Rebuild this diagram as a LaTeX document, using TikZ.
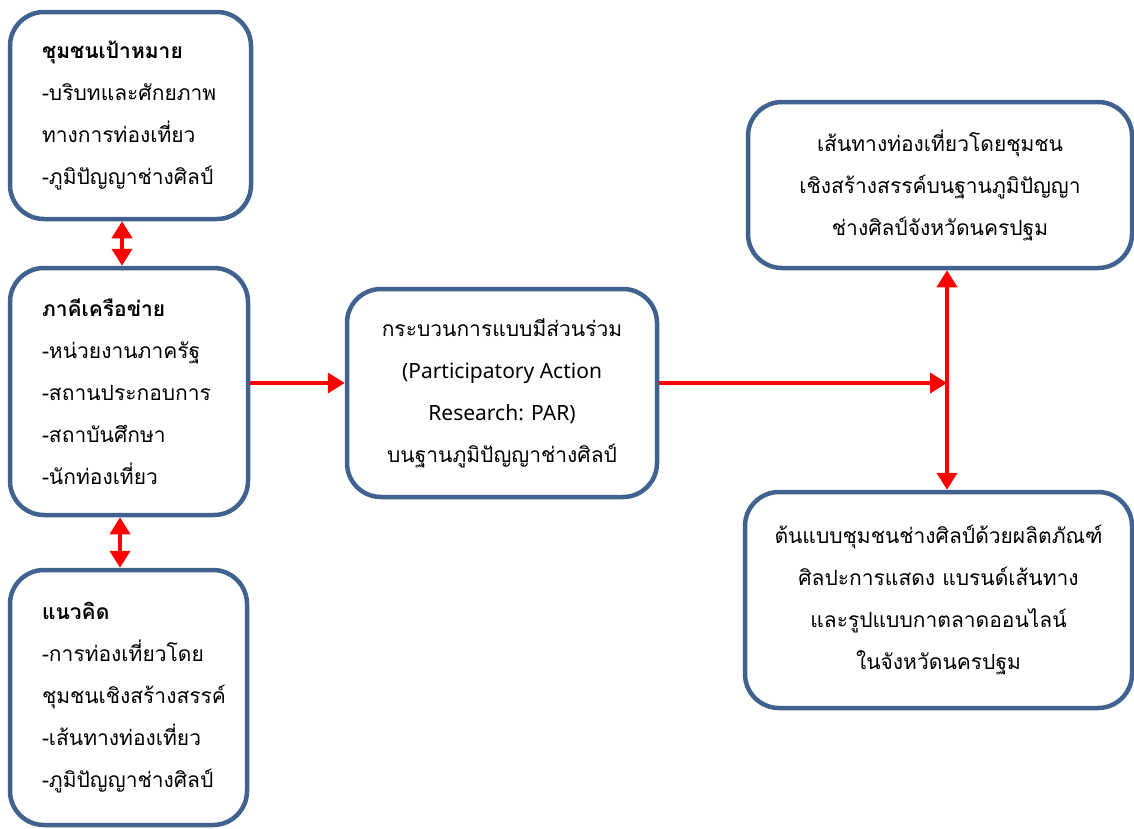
\documentclass[tikz,border=0pt]{standalone}
\usepackage{fontspec}
\setmainfont[Script=Thai]{Loma}
\newfontfamily\latinfont{Noto Sans}
\usetikzlibrary{arrows.meta}
\definecolor{boxblue}{HTML}{41618F}
\definecolor{arrowred}{HTML}{FF0000}
\begin{document}
\begin{tikzpicture}[x=1pt,y=-1pt,
  box/.style={draw=boxblue, line width=4.5pt, rounded corners=34pt, fill=white,
    inner ysep=0pt, font=\fontsize{21}{42}\selectfont},
  leftbox/.style={box, inner xsep=32pt, align=left},
  rightbox/.style={box, inner xsep=10pt, align=center},
  onearrow/.style={draw=arrowred, line width=4pt, -{Triangle[width=20pt,length=17pt]}},
  twoarrow/.style={draw=arrowred, line width=4pt, {Triangle[width=20pt,length=17pt]}-{Triangle[width=20pt,length=17pt]}}]
\useasboundingbox (0,0) rectangle (1134,828);

% left column
\node[leftbox, text width=177pt, minimum height=207pt] (target) at (130.5,115.5)
  {\textbf{ชุมชนเป้าหมาย}\\-บริบทและศักยภาพ\\ทางการท่องเที่ยว\\-ภูมิปัญญาช่างศิลป์};
\node[leftbox, text width=174pt, minimum height=247pt] (network) at (129,391.5)
  {\textbf{ภาคีเครือข่าย}\\-หน่วยงานภาครัฐ\\-สถานประกอบการ\\-สถาบันศึกษา\\-นักท่องเที่ยว};
\node[leftbox, text width=173pt, minimum height=255pt] (concept) at (128.5,697.5)
  {\textbf{แนวคิด}\\-การท่องเที่ยวโดย\\ชุมชนเชิงสร้างสรรค์\\-เส้นทางท่องเที่ยว\\-ภูมิปัญญาช่างศิลป์};

% centre
\node[rightbox, minimum width=310pt, minimum height=208pt] (process) at (502,393)
  {กระบวนการแบบมีส่วนร่วม\\{\latinfont(Participatory Action}\\{\latinfont Research: PAR)}\\บนฐานภูมิปัญญาช่างศิลป์};

% right column
\node[rightbox, minimum width=384pt, minimum height=166pt] (route) at (940,185)
  {เส้นทางท่องเที่ยวโดยชุมชน\\เชิงสร้างสรรค์บนฐานภูมิปัญญา\\ช่างศิลป์จังหวัดนครปฐม};
\node[rightbox, minimum width=387pt, minimum height=216pt] (prototype) at (938.5,600)
  {ต้นแบบชุมชนช่างศิลป์ด้วยผลิตภัณฑ์\\ศิลปะการแสดง แบรนด์เส้นทาง\\และรูปแบบกาตลาดออนไลน์\\ในจังหวัดนครปฐม};

% connectors
\coordinate (j) at (947,383);
\draw[twoarrow] ([xshift=-8.5pt]target.south) -- ([xshift=-8.5pt]target.south |- network.north);
\draw[twoarrow] ([xshift=-9pt]network.south) -- ([xshift=-9pt]network.south |- concept.north);
\draw[onearrow] (network.east |- j) -- (process.west |- j);
\draw[onearrow] (process.east |- j) -- (j);
\draw[twoarrow] (route.south -| j) -- (prototype.north -| j);
\end{tikzpicture}
\end{document}
